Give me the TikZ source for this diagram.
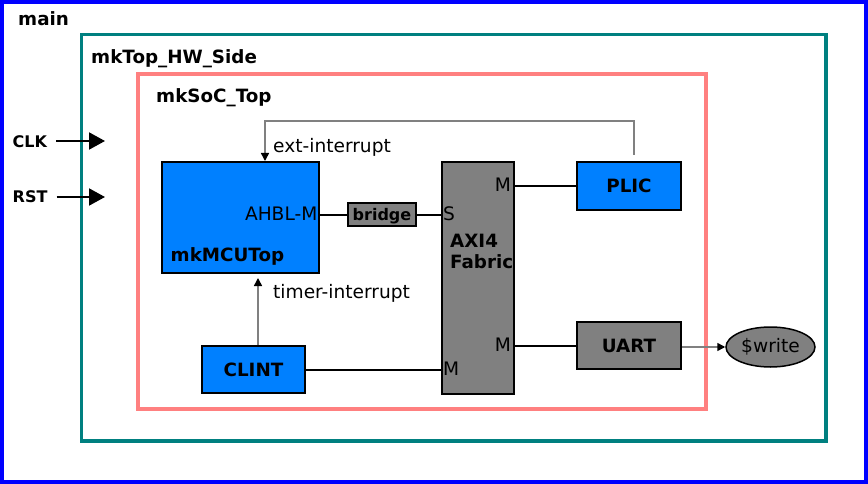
\documentclass[tikz,border=0pt]{standalone}
\usepackage{fontspec}
\setmainfont{DejaVu Sans}
\usetikzlibrary{arrows.meta,shapes.geometric}
\definecolor{boxblue}{HTML}{0080FF}
\definecolor{boxgray}{HTML}{808080}
\definecolor{salmonc}{HTML}{FF8080}
\definecolor{tealc}{HTML}{008080}
\definecolor{outerblue}{HTML}{0000FF}
\tikzset{
  txt/.style={font=\fontsize{18.6}{24}\selectfont, inner sep=0pt},
  btxt/.style={font=\fontsize{18.3}{21}\selectfont\bfseries, inner sep=0pt},
  stxt/.style={font=\fontsize{16}{20}\selectfont\bfseries, inner sep=0pt},
  blk/.style={draw=black, line width=2pt, inner sep=0pt, font=\fontsize{18.3}{24}\selectfont\bfseries},
  bluebox/.style={blk, fill=boxblue},
  graybox/.style={blk, fill=boxgray},
  wire/.style={draw=black, line width=2pt},
  sig/.style={draw=boxgray, line width=1.5pt, -{Triangle[length=8pt,width=8pt,color=black]}},
  inarrow/.style={draw=black, line width=2pt, -{Triangle[length=16pt,width=17pt]}},
}
\begin{document}
\begin{tikzpicture}[x=1pt,y=-1pt]
\useasboundingbox (0,0) rectangle (868,484);
% containers
\draw[outerblue, line width=4pt] (2,2) rectangle (866,482);
\draw[tealc, line width=3.4pt] (81.7,34.3) rectangle (825.8,441);
\draw[salmonc, line width=3.6pt] (137.7,74) rectangle (705.7,409);
\node[btxt, anchor=base west] (lmain) at (18,26) {main};
\node[btxt, anchor=base west] (ltop) at (91,64) {mkTop\_HW\_Side};
\node[btxt, anchor=base west] (lsoc) at (156,102.7) {mkSoC\_Top};
% clock/reset
\node[stxt, anchor=base west] (clk) at (12.5,147.3) {CLK};
\node[stxt, anchor=base west] (rst) at (12.5,202.3) {RST};
\coordinate (clkend) at (105,141);
\coordinate (rstend) at (105,197);
\draw[inarrow] (clk.east |- clkend) ++(9,0) -- (clkend);
\draw[inarrow] (rst.east |- rstend) ++(9,0) -- (rstend);
% blocks
\node[bluebox, minimum width=157pt, minimum height=111pt] (mcu) at (240.5,217.5) {};
\node[graybox, minimum width=68pt, minimum height=23pt, text height=12pt, text depth=0pt, font=\fontsize{16}{20}\selectfont\bfseries] (bridge) at (382,214.5) {bridge};
\node[graybox, minimum width=72pt, minimum height=232pt] (axi) at (478,278) {};
\node[bluebox, minimum width=104pt, minimum height=48pt] (plic) at (629,186) {PLIC};
\node[graybox, minimum width=104pt, minimum height=47pt] (uart) at (629,345.5) {UART};
\node[bluebox, minimum width=103pt, minimum height=47pt] (clint) at (253.5,369.5) {CLINT};
\node[ellipse, draw=black, fill=boxgray, line width=1.5pt, minimum width=89pt, minimum height=40pt, inner sep=0pt, font=\fontsize{18.6}{24}\selectfont] (wr) at (770.5,347) {\$write};
% block labels
\node[txt, anchor=base east] (ahbl) at (317.5,220) {AHBL-M};
\node[btxt, anchor=base west] (mculbl) at (170.5,261.7) {mkMCUTop};
\node[btxt, anchor=base west, align=left] (axilbl) at (450,268.3) {AXI4\\Fabric};
\node[txt, anchor=base west] (ps) at (443,220) {S};
\node[txt, anchor=base east] (pm1) at (511,192) {M};
\node[txt, anchor=base east] (pm2) at (511,351) {M};
\node[txt, anchor=base west] (pm3) at (443,375) {M};
% wires
\draw[wire] (bridge.west) -- (mcu.east |- bridge.west);
\draw[wire] (bridge.east) -- (axi.west |- bridge.east);
\draw[wire] (plic.west) -- (axi.east |- plic.west);
\draw[wire] ([yshift=-0.5pt]uart.west) -- ([yshift=-0.5pt]axi.east |- uart.west);
\draw[wire] (clint.east) -- (axi.west |- clint.east);
% signals
\draw[sig] (uart.east |- wr.west) -- (wr.west);
\draw[sig, shorten >=4pt] ([xshift=4.5pt]clint.north) -- ([xshift=4.5pt]clint.north |- mcu.south);
\draw[sig, shorten <=6pt] ([xshift=5pt]plic.north) -- ++(0,-40) -| ([xshift=24.5pt]mcu.north);
\node[txt, anchor=base west] (extl) at (273,153) {ext-interrupt};
\node[txt, anchor=base west] (timl) at (273,298.5) {timer-interrupt};
\end{tikzpicture}
\end{document}
